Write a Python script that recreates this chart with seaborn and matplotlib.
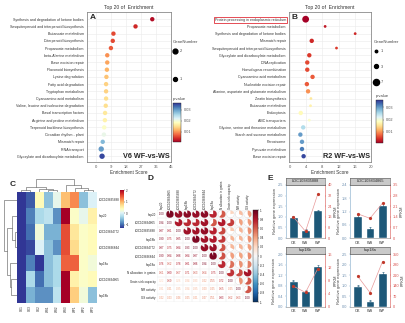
import numpy as np
import pandas as pd
import matplotlib
matplotlib.use("Agg")
import matplotlib.pyplot as plt
import matplotlib.colors as mcolors
import matplotlib.cm as cm
from matplotlib.patches import Wedge, Circle
from matplotlib.lines import Line2D
import seaborn as sns

# ---------------- data ----------------
A_terms = ["Synthesis and degradation of ketone bodies", "Sesquiterpenoid and triterpenoid biosynthesis",
           "Butanoate metabolism", "Diterpenoid biosynthesis", "Propanoate metabolism",
           "beta-Alanine metabolism", "Base excision repair", "Flavonoid biosynthesis",
           "Lysine degradation", "Fatty acid degradation", "Tryptophan metabolism",
           "Cyanoamino acid metabolism", "Valine, leucine and isoleucine degradation",
           "Basal transcription factors", "Arginine and proline metabolism",
           "Terpenoid backbone biosynthesis", "Circadian rhythm - plant", "Mismatch repair",
           "RNA transport", "Glyoxylate and dicarboxylate metabolism"]
A_score = [33.8, 23.8, 10.6, 10.2, 9.1, 6.9, 6.9, 6.7, 6.4, 6.2, 6.2, 6.2, 6.0, 5.6, 5.5, 5.1, 4.9, 4.2, 3.3, 3.8]
A_pval = [0.002, 0.004, 0.006, 0.006, 0.007, 0.010, 0.011, 0.012, 0.013, 0.014, 0.014, 0.015, 0.015,
          0.016, 0.017, 0.019, 0.021, 0.028, 0.030, 0.035]
A_genes = [1, 1, 1, 1, 1, 1, 1, 1, 1, 1, 1, 1, 1, 1, 1, 1, 1, 1, 2, 2]

B_terms = ["Protein processing in endoplasmic reticulum", "Propanoate metabolism",
           "Synthesis and degradation of ketone bodies", "Mismatch repair",
           "Sesquiterpenoid and triterpenoid biosynthesis", "Glyoxylate and dicarboxylate metabolism",
           "DNA replication", "Homologous recombination", "Cyanoamino acid metabolism",
           "Nucleotide excision repair", "Alanine, aspartate and glutamate metabolism",
           "Zeatin biosynthesis", "Butanoate metabolism", "Endocytosis", "ABC transporters",
           "Glycine, serine and threonine metabolism", "Starch and sucrose metabolism",
           "Peroxisome", "Pyruvate metabolism", "Base excision repair"]
B_score = [3.9, 8.7, 16.1, 5.4, 11.5, 4.8, 4.3, 4.3, 5.6, 4.2, 4.5, 5.2, 5.1, 2.7, 4.8, 3.3, 2.6, 3.0, 3.0, 3.4]
B_pval = [0.001, 0.003, 0.004, 0.004, 0.005, 0.005, 0.006, 0.006, 0.007, 0.007, 0.010, 0.016,
          0.017, 0.018, 0.019, 0.025, 0.030, 0.030, 0.032, 0.035]
B_genes = [7, 1, 1, 3, 1, 3, 3, 3, 3, 3, 3, 1, 1, 3, 1, 3, 3, 3, 3, 3]

C_rows = ["LOC103835888", "hsp20", "LOC103834772", "LOC103836844", "hsp18a", "LOC103834865", "hsp18b"]
C_cols = ["CK1", "CK2", "CK3", "WS1", "WS2", "WS3", "WP1", "WP2", "WP3"]
C_vals = [[-1.3, 0.4, -1.1, -0.5, 0.1, 0.9, 1.2, -0.5, 0.0],
          [-1.3, -0.3, -0.9, -0.2, -0.8, 2.0, 0.3, 0.1, 0.5],
          [-1.3, 0.2, -1.0, -0.6, -0.6, 1.5, 0.6, 0.3, 0.4],
          [-1.3, 0.0, -1.2, -0.5, -0.8, 1.5, 0.7, 0.3, 0.4],
          [-1.3, -1.3, -0.9, -0.5, -0.3, 1.4, 1.4, 0.3, 0.2],
          [-1.3, -1.0, -0.3, -0.5, -0.3, 2.0, 0.5, 0.3, 0.4],
          [-1.3, -0.8, -0.6, -0.8, -0.2, 2.0, 0.8, 0.2, -0.5]]

D_labels = ["hsp20", "LOC103834865", "LOC103835888", "hsp18b", "LOC103834772", "LOC103836844",
            "hsp18a", "N allocation in grains", "Grain sink capacity", "NR activity", "GS activity"]
D_lower = [[1.00],
           [0.94, 1.00],
           [0.87, 0.81, 1.00],
           [0.90, 0.75, 0.85, 1.00],
           [0.87, 0.75, 0.84, 0.93, 1.00],
           [0.90, 0.84, 0.88, 0.84, 0.87, 1.00],
           [0.76, 0.62, 0.78, 0.81, 0.86, 0.94, 1.00],
           [0.61, 0.80, 0.67, 0.71, 0.63, 0.64, 0.75, 1.00],
           [0.22, 0.69, 0.26, 0.34, 0.33, 0.42, 0.55, 0.72, 1.00],
           [0.31, 0.41, 0.35, 0.34, 0.35, 0.40, 0.45, 0.65, 0.45, 1.00],
           [0.42, 0.43, 0.46, 0.45, 0.41, 0.47, 0.51, 0.83, 0.62, 0.63, 1.00]]

E_genes = ["LOC103835888", "LOC103834865", "hsp18b", "hsp18a"]
E_groups = ["CK", "WS", "WP"]
E_qpcr = [[1.0, 0.40, 1.30], [1.0, 0.45, 1.50], [1.0, 0.60, 1.55], [1.0, 0.30, 1.60]]
E_err = [[0.03, 0.03, 0.02], [0.03, 0.03, 0.08], [0.02, 0.03, 0.04], [0.02, 0.02, 0.04]]
E_fpkm = [[16, 5, 33], [1.6, 1.3, 2.3], [6.3, 4.4, 11.5], [205, 95, 300]]
E_left_max = [2.5, 2.4, 2.0, 2.5]
E_left_step = [0.5, 0.6, 0.4, 0.5]
E_right_max = [40, 3.5, 16, 350]
E_right_step = [8, 0.7, 4, 70]

# ---------------- style ----------------
sns.set_style("white")
plt.rcParams["font.family"] = ["Liberation Sans", "DejaVu Sans"]
plt.rcParams["axes.linewidth"] = 0.4

W, H = 405, 323
fig = plt.figure(figsize=(W / 100, H / 100), dpi=100)


def rect(x0, y0, x1, y1):
    return [x0 / W, 1 - y1 / H, (x1 - x0) / W, (y1 - y0) / H]


pnorm = mcolors.Normalize(0.001, 0.036)


def enrich_panel(r, terms, score, pval, genes, xticks, xlim, letter, tag, size_map,
                 leg_keys, leg_xy, leg_space, cbar_r, highlight=None):
    ax = fig.add_axes(r)
    df = pd.DataFrame(dict(term=terms, score=score, p=pval, n=genes))
    sns.scatterplot(data=df, x="score", y="term", hue="p", palette="RdYlBu", hue_norm=pnorm,
                    size="n", sizes=size_map, legend=False, ax=ax, edgecolor="none", zorder=3)
    ax.set_ylim(len(terms) - 0.2, -1.0)
    ax.set_xlim(*xlim)
    ax.set_xticks(xticks)
    ax.grid(True, color="#ebebeb", lw=0.4)
    ax.set_axisbelow(True)
    for s in ax.spines.values():
        s.set_color("#8a8a8a")
        s.set_linewidth(0.6)
    ax.tick_params(axis="y", labelsize=2.6, length=1.2, width=0.3, pad=1, colors="#333333")
    ax.tick_params(axis="x", labelsize=3.0, length=1.2, width=0.3, pad=1, colors="#555555")
    ax.set_ylabel("")
    ax.set_xlabel("Enrichment Score", fontsize=3.3, labelpad=1, color="#333333")
    ax.set_title("Top 20 of  Enrichment", fontsize=3.6, pad=2, color="#333333")
    ax.text(0.03, 0.985, letter, transform=ax.transAxes, fontsize=6, weight="bold", va="top", ha="left")
    ax.text(0.985, 0.01, tag, transform=ax.transAxes, fontsize=5.2, weight="bold", va="bottom", ha="right")
    lx, ly = leg_xy
    fig.text(lx / W, 1 - 42 / H, "GeneNumber", fontsize=3.1, color="#444444", va="center", ha="left")
    handles = [Line2D([], [], marker="o", ls="", color="black", markersize=np.sqrt(size_map[k]) * 0.9)
               for k in leg_keys]
    leg = ax.legend(handles, [str(k) for k in leg_keys], loc="upper left",
                    bbox_to_anchor=(lx / W, 1 - ly / H), bbox_transform=fig.transFigure,
                    frameon=False, fontsize=2.8, labelspacing=leg_space, handletextpad=0.6,
                    borderaxespad=0, borderpad=0, handlelength=1.2)
    for t in leg.get_texts():
        t.set_color("#444444")
    cax = fig.add_axes(cbar_r)
    cb = fig.colorbar(cm.ScalarMappable(norm=pnorm, cmap="RdYlBu"), cax=cax, ticks=[0.01, 0.02, 0.03])
    cb.ax.tick_params(labelsize=2.8, length=1.0, width=0.3, pad=1, colors="#555555")
    cb.outline.set_linewidth(0.3)
    cax.set_title("p.value", fontsize=3.0, loc="left", pad=2, color="#444444")
    if highlight is not None:
        for lab in ax.get_yticklabels():
            if lab.get_text() == highlight:
                lab.set_bbox(dict(facecolor="none", edgecolor="#e0303a", lw=0.6, pad=0.6))
    return ax


enrich_panel(rect(87, 12, 171, 162), A_terms, A_score, A_pval, A_genes, [0, 9, 18, 27, 36, 45],
             (-5.2, 45), "A", "V6 WF-vs-WS", {1: 10, 2: 15}, [2, 1], (173, 49), 6.2, rect(173, 103, 181, 142))
enrich_panel(rect(289, 12, 371, 162), B_terms, B_score, B_pval, B_genes, [0, 4, 8, 12, 16, 20],
             (-0.2, 20), "B", "R2 WF-vs-WS", {1: 4, 3: 10, 7: 24}, [1, 3, 7], (374, 49), 3.0,
             rect(376, 100, 383, 143), highlight="Protein processing in endoplasmic reticulum")

# ---------------- C: clustered heatmap ----------------
X = np.array(C_vals)


def cluster(M):
    n = len(M)
    Dm = np.sqrt(((M[:, None, :] - M[None, :, :]) ** 2).sum(-1))
    cl = [(("leaf", i), [i]) for i in range(n)]
    while len(cl) > 1:
        best = None
        for a in range(len(cl)):
            for b in range(a + 1, len(cl)):
                d = Dm[np.ix_(cl[a][1], cl[b][1])].max()
                if best is None or d < best[0]:
                    best = (d, a, b)
        d, a, b = best
        node = (("node", cl[a][0], cl[b][0], d), cl[a][1] + cl[b][1])
        cl = [c for k, c in enumerate(cl) if k not in (a, b)] + [node]
    return cl[0][0]


def leaves(nd):
    return [nd[1]] if nd[0] == "leaf" else leaves(nd[1]) + leaves(nd[2])


def segments(nd, order):
    segs = []

    def rec(q):
        if q[0] == "leaf":
            return order.index(q[1]) + 0.5, 0.0
        xa, ha = rec(q[1])
        xb, hb = rec(q[2])
        segs.append(([xa, xa, xb, xb], [ha, q[3], q[3], hb]))
        return (xa + xb) / 2, q[3]

    rec(nd)
    return segs


rtree = cluster(X)
ctree = cluster(X.T)
rorder = leaves(rtree)
corder = leaves(ctree)

axh = fig.add_axes(rect(17, 192, 97, 303))
caxC = fig.add_axes(rect(120, 190, 124, 228))
dfC = pd.DataFrame(X[rorder][:, corder], index=[C_rows[i] for i in rorder],
                   columns=[C_cols[j] for j in corder])
sns.heatmap(dfC, ax=axh, cmap="RdYlBu_r", cbar_ax=caxC, xticklabels=True, yticklabels=True)
axh.yaxis.tick_right()
axh.tick_params(axis="y", labelsize=2.2, length=0, pad=1.5, rotation=0)
axh.tick_params(axis="x", labelsize=2.2, length=0, pad=1.5, rotation=90)
axh.set_xlabel("")
axh.set_ylabel("")
caxC.tick_params(labelsize=2.2, length=0.8, width=0.3, pad=0.8)

axcd = fig.add_axes(rect(17, 178, 97, 192))
for xs, ys in segments(ctree, corder):
    axcd.plot(xs, ys, color="#555555", lw=0.4)
axcd.set_xlim(0, len(C_cols))
axcd.set_ylim(0, None)
axcd.axis("off")

axrd = fig.add_axes(rect(3, 192, 17, 303))
for xs, ys in segments(rtree, rorder):
    axrd.plot(ys, xs, color="#555555", lw=0.4)
axrd.set_ylim(len(C_rows), 0)
axrd.set_xlim(axrd.get_xlim()[1], 0)
axrd.axis("off")
fig.text(10 / W, 1 - 184 / H, "C", fontsize=6, weight="bold", va="center")

# ---------------- D: correlation plot ----------------
n = len(D_labels)
M = np.eye(n)
for i, row in enumerate(D_lower):
    for j, v in enumerate(row):
        M[i, j] = v
        M[j, i] = v

axd = fig.add_axes(rect(157, 210, 252, 302))
cmapD = plt.get_cmap("RdBu_r")
normD = mcolors.Normalize(-1, 1)
axd.set_xlim(0, n)
axd.set_ylim(n, 0)
for k in range(n + 1):
    axd.plot([0, n], [k, k], color="#e6e6e6", lw=0.3)
    axd.plot([k, k], [0, n], color="#e6e6e6", lw=0.3)
for i in range(n):
    for j in range(n):
        v = M[i, j]
        cx, cy = j + 0.5, i + 0.5
        if j > i:
            axd.add_patch(Circle((cx, cy), 0.44, fill=False, ec="#d8d8d8", lw=0.3))
            axd.add_patch(Wedge((cx, cy), 0.44, 270, 270 + 360 * v, fc=cmapD(normD(v)), ec="none"))
        else:
            axd.text(cx, cy, f"{v:.2f}", color=cmapD(normD(v)), fontsize=2.0, ha="center", va="center")
axd.set_xticks(np.arange(n) + 0.5)
axd.set_yticks(np.arange(n) + 0.5)
axd.set_xticklabels(D_labels, rotation=90, fontsize=2.2)
axd.set_yticklabels(D_labels, fontsize=2.2)
axd.xaxis.tick_top()
axd.tick_params(length=0, pad=1)
for s in axd.spines.values():
    s.set_visible(False)
caxD = fig.add_axes(rect(253, 210, 258, 302))
cbD = fig.colorbar(cm.ScalarMappable(norm=normD, cmap=cmapD), cax=caxD, ticks=np.linspace(-1, 1, 11))
cbD.ax.set_yticklabels([f"{t:g}" for t in np.round(np.linspace(-1, 1, 11), 1)])
cbD.ax.tick_params(labelsize=2.2, length=0.8, width=0.3, pad=0.8)
cbD.outline.set_linewidth(0.3)
fig.text(148 / W, 1 - 178 / H, "D", fontsize=6, weight="bold", va="center")

# ---------------- E: qPCR bars + FPKM lines ----------------
E_rects = [(286, 185, 325, 238), (350, 185, 390, 238), (286, 254, 325, 307), (350, 254, 390, 307)]
bar_col = "#1d5878"
left_col = "#7fa8c9"
right_col = "#d9534f"
for g, (x0, y0, x1, y1) in enumerate(E_rects):
    ax = fig.add_axes(rect(x0, y0, x1, y1))
    sns.barplot(x=E_groups, y=E_qpcr[g], color=bar_col, ax=ax, width=0.7, errorbar=None, saturation=1)
    ax.errorbar(np.arange(len(E_groups)), E_qpcr[g], yerr=E_err[g], fmt="none", ecolor=bar_col,
                lw=0.4, capsize=0.8, capthick=0.4)
    ax.set_xlim(-0.6, len(E_groups) - 0.4)
    ax.set_ylim(0, E_left_max[g])
    ax.set_yticks(np.arange(0, E_left_max[g] + 1e-9, E_left_step[g]))
    ax.yaxis.set_major_formatter(matplotlib.ticker.FormatStrFormatter("%.1f"))
    ax.tick_params(axis="both", labelsize=2.8, length=1.0, width=0.3, pad=0.8)
    ax.tick_params(axis="y", colors=left_col, labelcolor="#6d8fb0")
    ax.set_ylabel("Relative gene expression", fontsize=3.0, labelpad=1, color="#444444")
    ax.spines["left"].set_color(left_col)
    ax.spines["right"].set_color(right_col)
    ax.spines["top"].set_color("#888888")
    ax.spines["bottom"].set_color("#888888")
    ax2 = ax.twinx()
    ax2.plot(np.arange(len(E_groups)), E_fpkm[g], color="#e89a9a", lw=0.5, marker="o", ms=1.3,
             mfc="#c0392b", mec="#c0392b")
    ax2.set_ylim(0, E_right_max[g])
    rt = np.arange(0, E_right_max[g] + 1e-9, E_right_step[g])
    ax2.set_yticks(rt)
    ax2.set_yticklabels([f"{t:g}" for t in np.round(rt, 2)])
    ax2.tick_params(axis="y", labelsize=2.8, length=1.0, width=0.3, pad=0.8, colors=right_col)
    ax2.set_ylabel("FPKM", fontsize=3.0, labelpad=1, color="#444444")
    for s in ax2.spines.values():
        s.set_visible(False)
    sax = fig.add_axes(rect(x0, y0 - 7, x1, y0))
    sax.set_facecolor("#c9c9c9")
    sax.set_xticks([])
    sax.set_yticks([])
    for s in sax.spines.values():
        s.set_color("#555555")
        s.set_linewidth(0.4)
    sax.text(0.5, 0.5, E_genes[g], fontsize=2.8, ha="center", va="center", transform=sax.transAxes)
fig.text(267 / W, 1 - 178 / H, "E", fontsize=6, weight="bold", va="center")

fig.savefig("out.png", dpi=100)
